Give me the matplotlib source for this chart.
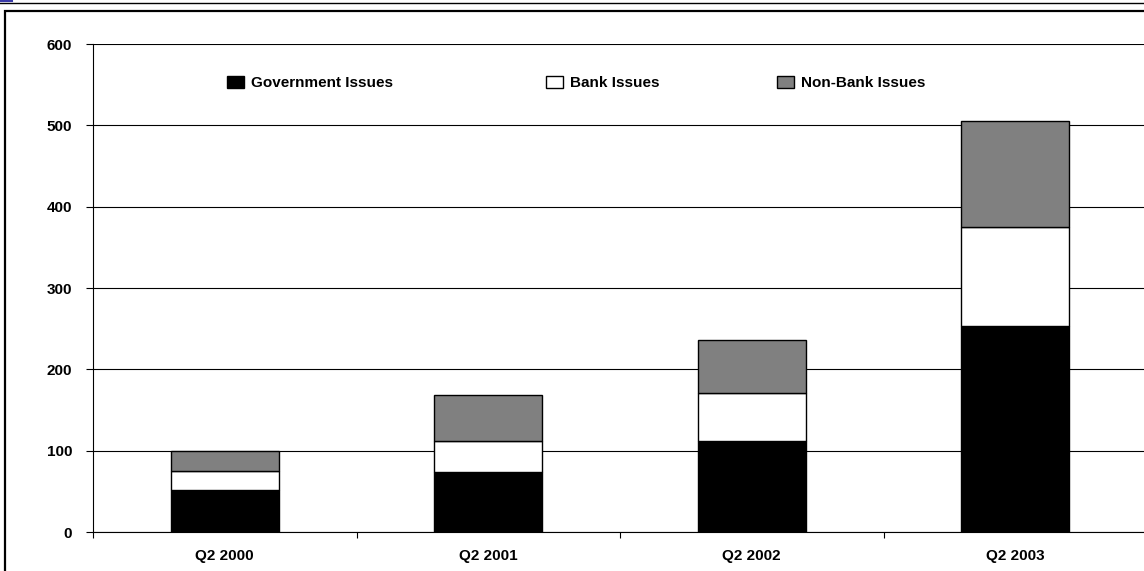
import matplotlib.pyplot as plt
import matplotlib.patches as mpatches
from matplotlib.lines import Line2D
import numpy as np

# ---- data ----
quarters = ['Q2 2000', 'Q2 2001', 'Q2 2002', 'Q2 2003']
government = [52, 74, 112, 253]
bank = [23, 38, 59, 122]
non_bank = [25, 57, 65, 130]
series_names = ['Government Issues', 'Bank Issues', 'Non-Bank Issues']
y_ticks = [0, 100, 200, 300, 400, 500, 600]

plt.rcParams['font.family'] = ['Liberation Sans', 'DejaVu Sans']
plt.rcParams['font.weight'] = 'bold'

W, H = 1144, 571
FS = 11
fig = plt.figure(figsize=(W / 100, H / 100), dpi=100)

# outer frame like the original document box
fig.add_artist(Line2D([0, 1], [1 - 2.5 / H, 1 - 2.5 / H], transform=fig.transFigure,
                      color='black', lw=1.0))
fig.add_artist(Line2D([0, 12 / W], [1 - 1 / H, 1 - 1 / H], transform=fig.transFigure,
                      color='#3a3aa8', lw=1.5))
fig.add_artist(mpatches.Rectangle((5 / W, -0.02), 1.1, 1 - 11 / H + 0.02,
                                  transform=fig.transFigure, fill=False,
                                  edgecolor='black', lw=1.6))

ax = fig.add_axes([93 / W, 1 - 532 / H, (1147 - 93) / W, (532 - 44) / H])

x = np.arange(len(quarters))
gov = np.array(government)
bnk = np.array(bank)
nbk = np.array(non_bank)
width = 0.41

b1 = ax.bar(x, gov, width, color='black', edgecolor='black', lw=1.0, zorder=3)
b2 = ax.bar(x, bnk, width, bottom=gov, color='white', edgecolor='black', lw=1.0, zorder=3)
b3 = ax.bar(x, nbk, width, bottom=gov + bnk, color='#808080', edgecolor='black', lw=1.0, zorder=3)

ax.set_xlim(-0.5, 3.5)
ax.set_ylim(0, 600)
ax.set_yticks(y_ticks)
ax.set_yticklabels([str(v) for v in y_ticks], fontsize=FS, fontweight='bold')
ax.set_xticks(x)
ax.set_xticklabels(quarters, fontsize=FS, fontweight='bold')
ax.set_xticks(np.arange(-0.5, 3.0, 1.0), minor=True)

ax.tick_params(axis='y', direction='out', length=5, width=0.8, pad=10)
ax.tick_params(axis='x', which='major', length=0, pad=12)
ax.tick_params(axis='x', which='minor', direction='out', length=4, width=0.8)

ax.yaxis.grid(True, color='black', lw=0.8, zorder=0)
ax.set_axisbelow(True)
for s in ['top', 'right']:
    ax.spines[s].set_visible(False)
ax.spines['left'].set_linewidth(0.8)
ax.spines['bottom'].set_linewidth(0.8)

# legend entries placed one by one at the original positions
handles = [b1, b2, b3]
leg_x = [227, 546, 777]
for h, name, lx in zip(handles, series_names, leg_x):
    fig.legend([h], [name], loc='center left',
               bbox_to_anchor=(lx / W, 1 - 83 / H),
               frameon=False, borderpad=0, borderaxespad=0,
               handlelength=1.1, handleheight=0.87, handletextpad=0.45,
               prop={'weight': 'bold', 'size': FS})

fig.savefig('out.png', dpi=100)
